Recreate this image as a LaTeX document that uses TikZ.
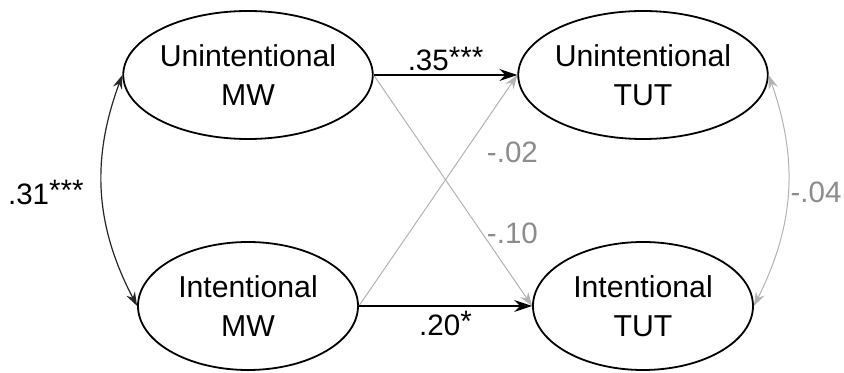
\documentclass[tikz,border=0pt]{standalone}
\usepackage{fontspec}
\setmainfont{Liberation Sans}
\usetikzlibrary{arrows.meta,shapes.geometric}

\newcommand{\sig}[1]{\raisebox{2.5pt}{#1}}

\tikzset{
	latent/.style={ellipse, draw, line width=0.45mm, minimum width=5.5cm, minimum height=3.2cm, inner sep=0pt, align=center, font=\fontsize{21.5}{27.5}\selectfont},
	coef/.style={inner sep=0pt, font=\fontsize{21}{25}\selectfont},
	strong/.style={line width=0.4mm, -{Stealth[length=4.5mm, width=3mm, inset=1.5mm]}},
	weak/.style={line width=0.25mm, color=black!30, -{Stealth[length=3.5mm, width=2.4mm, inset=1.2mm]}},
	twoway/.style={line width=0.3mm, {Stealth[length=3.5mm, width=2.4mm, inset=1.2mm]}-{Stealth[length=3.5mm, width=2.4mm, inset=1.2mm]}}
}

\begin{document}
\begin{tikzpicture}
		%%%%% START %%%%%
		
		\useasboundingbox (0, 0) rectangle (21.1, 9.325);
		
		\node[latent] (umw) at (6.2, 7.45) {Unintentional\\MW};
		\node[latent] (utut) at (16.075, 7.45) {Unintentional\\TUT};
		\node[latent] (imw) at (6.2, 1.675) {Intentional\\MW};
		\node[latent] (itut) at (16.075, 1.675) {Intentional\\TUT};
		
		\draw[weak] (umw.east) -- (itut.west);
		\draw[weak] (imw.east) -- (utut.west);
		
		\draw[strong] (umw.east) -- node[coef, above=0.08cm] (b35) {.35\sig{***}} (utut.west);
		\draw[strong] (imw.east) -- node[coef, below=0.12cm] (b20) {.20\sig{*}} (itut.west);
		
		\node[coef, color=black!45] (b02) at (12.81, 5.525) {-.02};
		\node[coef, color=black!45] (b10) at (12.81, 3.5) {-.10};
		
		\draw[twoway, color=black!85] (umw.west) to[bend right=24] node[coef, color=black, midway, left=0.45cm] (r31) {.31\sig{***}} (imw.west);
		\draw[twoway, color=black!30, line width=0.25mm] (utut.east) to[bend left=23] node[coef, color=black!45, midway, right=0.06cm] (r04) {-.04} (itut.east);
		
		%%%%% END %%%%%
	\end{tikzpicture}
\end{document}
